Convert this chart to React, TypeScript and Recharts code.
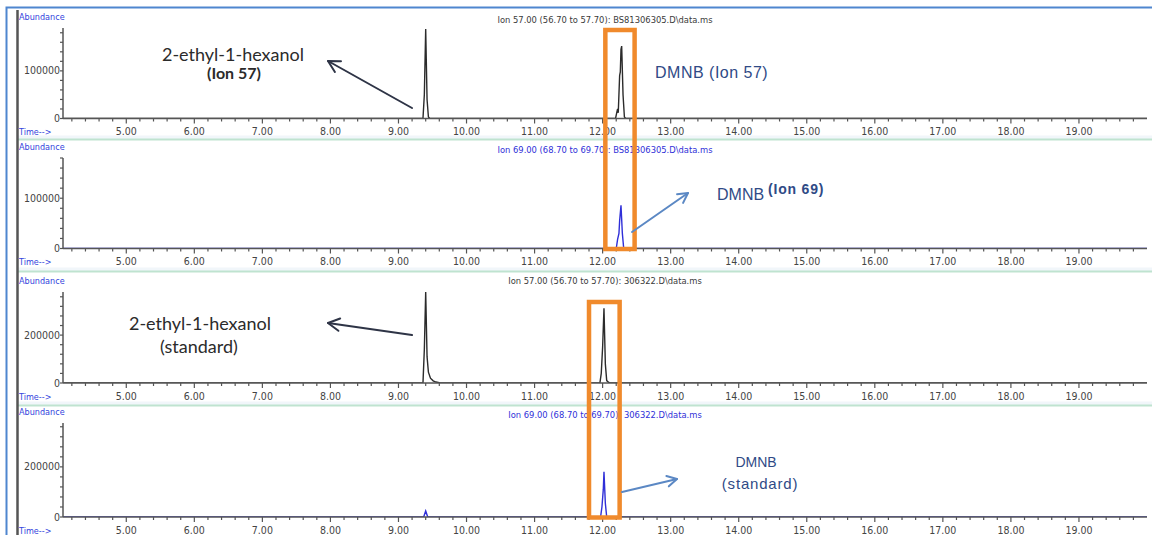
import React from "react";
import { LineChart, Line, XAxis, YAxis } from "recharts";

const W = 1152;
const H = 535;
const X_MIN = 4.07;
const X_MAX = 20.0;
const PLOT_LEFT = 63;
const PLOT_RIGHT = 1147;

const NARROW = "'Liberation Sans Narrow', 'DejaVu Sans Condensed', 'Liberation Sans', sans-serif";
const ARIAL = "'Liberation Sans', Arial, sans-serif";
const CALIBRI = "Lato, 'Open Sans', sans-serif";

// time axis (minutes)
const majorTimes = [5, 6, 7, 8, 9, 10, 11, 12, 13, 14, 15, 16, 17, 18, 19];
const timeLabels = ["5.00", "6.00", "7.00", "8.00", "9.00", "10.00", "11.00", "12.00", "13.00", "14.00", "15.00", "16.00", "17.00", "18.00", "19.00"];
const minorTimes = Array.from({ length: 79 }, (_, i) => Math.round((4.2 + i * 0.2) * 10) / 10);

// abundance axis
const abundTicks100k = [0, 20000, 40000, 60000, 80000, 100000, 120000, 140000, 160000, 180000];
const abundTicks200k = [0, 40000, 80000, 120000, 160000, 200000, 240000, 280000, 320000, 360000];

// traces: [time, abundance]
const sampleIon57 = [
  [4.07, 0], [9.36, 0], [9.38, 50000], [9.4, 188000], [9.42, 40000], [9.44, 3000], [9.46, 0],
  [12.19, 0], [12.21, 14000], [12.22, 20000], [12.23, 12000], [12.25, 90000], [12.26, 98000],
  [12.27, 145000], [12.28, 152000], [12.3, 50000], [12.32, 3000], [12.34, 0], [20.0, 0],
];
const sampleIon69 = [
  [4.07, 0], [12.2, 0], [12.22, 18000], [12.24, 30000], [12.25, 55000], [12.27, 86000],
  [12.29, 30000], [12.31, 0], [20.0, 0],
];
const standardIon57 = [
  [4.07, 0], [9.36, 0], [9.38, 140000], [9.4, 380000], [9.42, 110000], [9.44, 45000], [9.47, 20000],
  [9.51, 9000], [9.55, 4000], [9.6, 1500], [9.65, 0], [11.96, 0], [11.98, 40000], [12.0, 150000],
  [12.02, 312000], [12.04, 80000], [12.06, 10000], [12.09, 2000], [12.11, 0], [20.0, 0],
];
const standardIon69 = [
  [4.07, 0], [9.37, 0], [9.4, 24000], [9.43, 0], [11.97, 0], [11.99, 40000], [12.01, 110000],
  [12.02, 180000], [12.04, 55000], [12.06, 0], [20.0, 0],
];

const toPoints = (pairs: number[][]) => pairs.map(([t, v]) => ({ t, v }));

const panels = [
  { key: "s57", points: sampleIon57, top: 28, bottom: 118.5, yMax: 190000, yTicks: abundTicks100k, yLabel: 100000, trace: "#2b2b2b", title: "Ion 57.00 (56.70 to 57.70): BS81306305.D\\data.ms", titleColor: "#3a3a3a", titleY: 23 },
  { key: "s69", points: sampleIon69, top: 158, bottom: 248.5, yMax: 180000, yTicks: abundTicks100k, yLabel: 100000, trace: "#2f2fd8", title: "Ion 69.00 (68.70 to 69.70): BS81306305.D\\data.ms", titleColor: "#2f2fd8", titleY: 153 },
  { key: "t57", points: standardIon57, top: 292, bottom: 383, yMax: 380000, yTicks: abundTicks200k, yLabel: 200000, trace: "#2b2b2b", title: "Ion 57.00 (56.70 to 57.70): 306322.D\\data.ms", titleColor: "#3a3a3a", titleY: 284 },
  { key: "t69", points: standardIon69, top: 423, bottom: 517, yMax: 375000, yTicks: abundTicks200k, yLabel: 200000, trace: "#2f2fd8", title: "Ion 69.00 (68.70 to 69.70): 306322.D\\data.ms", titleColor: "#2f2fd8", titleY: 418 },
];

// orange highlight boxes: time range and pixel rows they span
const boxSample = { t0: 12.04, t1: 12.47, y0: 30, y1: 249 };
const boxStandard = { t0: 11.8, t1: 12.25, y0: 302, y1: 517.5 };

const toX = (t: number) => PLOT_LEFT + ((t - X_MIN) / (X_MAX - X_MIN)) * (PLOT_RIGHT - PLOT_LEFT);

function TimeTick(props: any) {
  const { x, y, payload } = props;
  const v = payload.value;
  const major = Number.isInteger(v);
  const idx = majorTimes.indexOf(v);
  return (
    <g>
      <line x1={x} x2={x} y1={y} y2={y + (major ? 5 : 3)} stroke="#555" strokeWidth={1.2} />
      {major && idx >= 0 && (
        <text x={x} y={y + 16.5} textAnchor="middle" fontSize={10.5} fill="#444" fontFamily={NARROW}>
          {timeLabels[idx]}
        </text>
      )}
    </g>
  );
}

function AbundTick(props: any) {
  const { x, y, payload, label } = props;
  const v = payload.value;
  const show = v === 0 || v === label;
  return (
    <g>
      <line x1={x - 3} x2={x} y1={y} y2={y} stroke="#555" strokeWidth={1.2} />
      {show && (
        <text x={x - 3} y={y + 3.5} textAnchor="end" fontSize={10.5} fill="#444" fontFamily={NARROW}>
          {String(v)}
        </text>
      )}
    </g>
  );
}

function Panel({ cfg }: { cfg: (typeof panels)[number] }) {
  const mTop = 6;
  const axisH = 24;
  const plotH = cfg.bottom - cfg.top;
  const h = mTop + plotH + axisH;
  return (
    <div style={{ position: "absolute", left: 0, top: cfg.top - mTop, width: W, height: h }}>
      <LineChart width={W} height={h} data={toPoints(cfg.points)} margin={{ top: mTop, right: W - PLOT_RIGHT, bottom: 0, left: 0 }}>
        <XAxis
          dataKey="t"
          type="number"
          domain={[X_MIN, X_MAX]}
          ticks={minorTimes}
          interval={0}
          tick={<TimeTick />}
          tickLine={false}
          tickSize={0}
          tickMargin={0}
          height={axisH}
          axisLine={{ stroke: "#555", strokeWidth: 1.5 }}
          allowDataOverflow
        />
        <YAxis
          type="number"
          domain={[0, cfg.yMax]}
          ticks={cfg.yTicks}
          interval={0}
          tick={<AbundTick label={cfg.yLabel} />}
          tickLine={false}
          tickSize={0}
          tickMargin={0}
          width={PLOT_LEFT}
          axisLine={{ stroke: "#555", strokeWidth: 1.5 }}
          allowDataOverflow
        />
        <Line dataKey="v" type="linear" stroke={cfg.trace} strokeWidth={1.4} dot={false} isAnimationActive={false} />
      </LineChart>
    </div>
  );
}

function Arrow({ x1, y1, x2, y2, color, head }: { x1: number; y1: number; x2: number; y2: number; color: string; head: number }) {
  const a = Math.atan2(y2 - y1, x2 - x1);
  const spread = 0.5;
  const hx1 = x2 - head * Math.cos(a - spread);
  const hy1 = y2 - head * Math.sin(a - spread);
  const hx2 = x2 - head * Math.cos(a + spread);
  const hy2 = y2 - head * Math.sin(a + spread);
  return (
    <g stroke={color} strokeWidth={2} fill="none" strokeLinecap="round" strokeLinejoin="round">
      <line x1={x1} y1={y1} x2={x2} y2={y2} />
      <polyline points={`${hx1},${hy1} ${x2},${y2} ${hx2},${hy2}`} />
    </g>
  );
}

export default function App() {
  const dark = "#2e3446";
  const navy = "#2f4a86";
  const lightBlue = "#5b88c4";
  const orange = "#f08a2c";
  const axisBlue = "#3344dd";
  return (
    <div style={{ position: "absolute", left: 0, top: 0, width: W, height: H, background: "#fff", overflow: "hidden" }}>
      <svg width={W} height={H} style={{ position: "absolute", left: 0, top: 0 }}>
        {[139.5, 271.5, 405.5].map((y) => (
          <g key={y}>
            <rect x={18} y={y - 4} width={W} height={4} fill="#f1f6fa" />
            <line x1={18} x2={W} y1={y} y2={y} stroke="#bfe3d0" strokeWidth={2} />
          </g>
        ))}
        <rect x={6.5} y={7.5} width={1160} height={560} fill="none" stroke="#4f86cf" strokeWidth={2} />
        <line x1={17.5} x2={17.5} y1={10} y2={H} stroke="#555" strokeWidth={2.5} />
      </svg>

      {panels.map((p) => (
        <Panel key={p.key} cfg={p} />
      ))}

      <svg width={W} height={H} style={{ position: "absolute", left: 0, top: 0 }}>
        {panels.map((p) => (
          <g key={p.key}>
            <text x={19} y={p.top - 8} fontSize={9} fill={axisBlue} fontFamily={NARROW}>Abundance</text>
            <text x={19} y={p.bottom + 16.5} fontSize={9} fill={axisBlue} fontFamily={NARROW}>Time--&gt;</text>
            <text x={605} y={p.titleY} textAnchor="middle" fontSize={9.3} fill={p.titleColor} fontFamily={NARROW}>{p.title}</text>
          </g>
        ))}

        {/* highlight boxes */}
        {[boxSample, boxStandard].map((b, i) => (
          <rect key={i} x={toX(b.t0)} y={b.y0} width={toX(b.t1) - toX(b.t0)} height={b.y1 - b.y0} fill="none" stroke={orange} strokeWidth={4.5} />
        ))}

        {/* panel 1 */}
        <text x={233} y={61} textAnchor="middle" fontSize={18} fill="#2b2b2b" fontFamily={CALIBRI}>2-ethyl-1-hexanol</text>
        <text x={234} y={79} textAnchor="middle" fontSize={16} fontWeight={700} fill="#2b2b2b" fontFamily={CALIBRI}>(Ion 57)</text>
        <Arrow x1={412} y1={108} x2={328} y2={61} color={dark} head={13} />
        <text x={655} y={78} fontSize={16} letterSpacing={0.5} fill={navy} fontFamily={ARIAL}>DMNB (Ion 57)</text>

        {/* panel 2 */}
        <Arrow x1={632} y1={232} x2={688} y2={193} color={lightBlue} head={11} />
        <text x={717} y={200} fontSize={16} fill={navy} fontFamily={ARIAL}>DMNB</text>
        <text x={768} y={194} fontSize={14} fontWeight={700} letterSpacing={0.8} fill={navy} fontFamily={ARIAL}>(Ion 69)</text>

        {/* panel 3 */}
        <text x={200} y={330} textAnchor="middle" fontSize={18} fill="#2b2b2b" fontFamily={CALIBRI}>2-ethyl-1-hexanol</text>
        <text x={199} y={353} textAnchor="middle" fontSize={18} fill="#2b2b2b" fontFamily={CALIBRI}>(standard)</text>
        <Arrow x1={412} y1={335} x2={328} y2={323} color={dark} head={13} />

        {/* panel 4 */}
        <Arrow x1={622} y1={492} x2={677} y2={479} color={lightBlue} head={11} />
        <text x={756} y={467} textAnchor="middle" fontSize={14} fill={navy} fontFamily={ARIAL}>DMNB</text>
        <text x={760} y={489} textAnchor="middle" fontSize={15} letterSpacing={0.8} fill={navy} fontFamily={ARIAL}>(standard)</text>
      </svg>
    </div>
  );
}
